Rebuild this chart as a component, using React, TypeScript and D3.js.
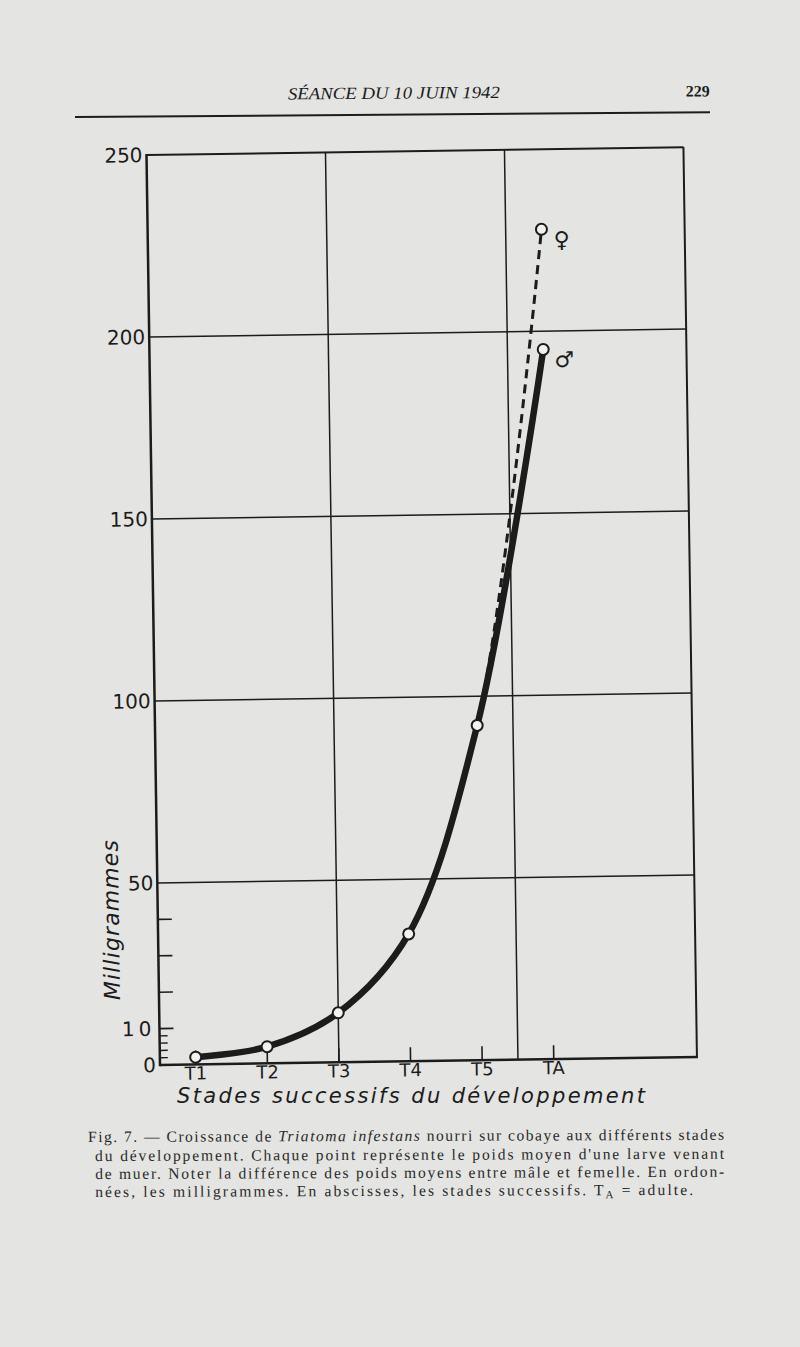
import React from "react";
import * as d3 from "d3";

// ---- data ----
const stages = ["T1", "T2", "T3", "T4", "T5", "TA"];
const maleMg = [2, 4.6, 13.6, 35, 92, 195];
const femaleStages = ["T4", "T5", "TA"];
const femaleMg = [35, 92, 228];
const yLabels = [0, 10, 50, 100, 150, 200, 250];
const gridValues = [50, 100, 150, 200];
const longMinorTicks = [10, 20, 30, 40];
const shortMinorTicks = [2, 4, 6, 8];
const verticalGridPositions = [3, 5.5]; // in stage units (T1 = 1)

const W = 800;
const H = 1347;
const INK = "#1c1c1c";
const PAPER = "#e4e4e2";

export default function App() {
  const left = 160;
  const right = 697;
  const bottom = 1065;
  const top = 155;

  const x = d3.scaleLinear().domain([0.5, 8]).range([left, right]);
  const y = d3.scaleLinear().domain([0, 250]).range([bottom, top]);
  const sx = (s: string) => x(stages.indexOf(s) + 1);

  const line = d3
    .line<[number, number]>()
    .x((d) => d[0])
    .y((d) => d[1])
    .curve(d3.curveCatmullRom.alpha(0.5));

  const malePts: [number, number][] = stages.map((s, i) => [sx(s), y(maleMg[i])]);
  const femalePts: [number, number][] = femaleStages.map((s, i) => [sx(s), y(femaleMg[i])]);
  const malePath = line(malePts) || "";
  const femalePath = line(femalePts) || "";
  const t5y = y(femaleMg[1]);
  const taX = sx("TA");

  const sans = "'DejaVu Sans', sans-serif";
  const serif = "'Liberation Serif', 'DejaVu Serif', serif";

  return (
    <svg
      width={W}
      height={H}
      viewBox={`0 0 ${W} ${H}`}
      style={{ position: "absolute", left: 0, top: 0, display: "block" }}
    >
      <rect x={0} y={0} width={W} height={H} fill={PAPER} />

      {/* page header */}
      <g transform="rotate(-0.42, 75, 117)">
        <text
          x={288}
          y={101}
          fontFamily={serif}
          fontStyle="italic"
          fontSize={17}
          fill={INK}
          textLength={212}
          lengthAdjust="spacingAndGlyphs"
        >
          SÉANCE DU 10 JUIN 1942
        </text>
        <text x={710} y={101} fontFamily={serif} fontWeight="bold" fontSize={16} fill={INK} textAnchor="end">
          229
        </text>
        <line x1={75} x2={710} y1={117} y2={117} stroke={INK} strokeWidth={2} />
      </g>

      {/* chart */}
      <g transform={`rotate(-0.85, ${left}, ${bottom})`}>
        <defs>
          <clipPath id="aboveT5">
            <rect x={left} y={top} width={right - left} height={t5y - 6 - top} />
          </clipPath>
        </defs>

        {/* horizontal grid */}
        {gridValues.map((v) => (
          <line key={"h" + v} x1={left} x2={right} y1={y(v)} y2={y(v)} stroke={INK} strokeWidth={1.5} />
        ))}
        {/* vertical grid */}
        {verticalGridPositions.map((p) => (
          <line key={"v" + p} x1={x(p)} x2={x(p)} y1={top} y2={bottom} stroke={INK} strokeWidth={1.5} />
        ))}
        {/* frame */}
        <line x1={left} x2={right} y1={top} y2={top} stroke={INK} strokeWidth={2} />
        <line x1={right} x2={right} y1={top} y2={bottom} stroke={INK} strokeWidth={2} />
        <line x1={left} x2={left} y1={top - 1} y2={bottom + 1.25} stroke={INK} strokeWidth={2.5} />
        <line x1={left} x2={right + 1} y1={bottom} y2={bottom} stroke={INK} strokeWidth={2.5} />

        {/* y minor ticks */}
        {longMinorTicks.map((v) => (
          <line key={"lt" + v} x1={left} x2={left + 14} y1={y(v)} y2={y(v)} stroke={INK} strokeWidth={1.6} />
        ))}
        {shortMinorTicks.map((v) => (
          <line key={"st" + v} x1={left} x2={left + 8} y1={y(v)} y2={y(v)} stroke={INK} strokeWidth={1.4} />
        ))}

        {/* y labels */}
        {yLabels.map((v) => (
          <text
            key={"yl" + v}
            x={left - 4}
            y={y(v) + 7}
            textAnchor="end"
            fontFamily={sans}
            fontSize={20}
            letterSpacing={v === 10 ? 4 : 0}
            fill={INK}
          >
            {v}
          </text>
        ))}

        {/* x ticks & labels */}
        {stages.map((s) => (
          <g key={"x" + s}>
            <line x1={sx(s)} x2={sx(s)} y1={bottom} y2={bottom - 14} stroke={INK} strokeWidth={1.6} />
            <text x={sx(s)} y={bottom + 15} textAnchor="middle" fontFamily={sans} fontSize={18} fill={INK}>
              {s}
            </text>
          </g>
        ))}

        {/* y axis title */}
        <text
          transform={`translate(${left - 39}, ${y(40)}) rotate(-90)`}
          textAnchor="middle"
          fontFamily={sans}
          fontStyle="italic"
          fontSize={22}
          fill={INK}
          textLength={160}
          lengthAdjust="spacing"
        >
          Milligrammes
        </text>

        {/* female (dashed) */}
        <path
          d={femalePath}
          fill="none"
          stroke={INK}
          strokeWidth={3}
          strokeDasharray="9,6"
          clipPath="url(#aboveT5)"
        />
        {/* male (solid thick) */}
        <path d={malePath} fill="none" stroke={INK} strokeWidth={6.5} strokeLinecap="butt" />

        {/* points */}
        {malePts.map((p, i) => (
          <circle key={"m" + i} cx={p[0]} cy={p[1]} r={5.5} fill="#f2f2f0" stroke={INK} strokeWidth={2} />
        ))}
        <circle
          cx={femalePts[2][0]}
          cy={femalePts[2][1]}
          r={5.5}
          fill="#f2f2f0"
          stroke={INK}
          strokeWidth={2}
        />

        {/* sex symbols */}
        <text x={taX + 20} y={y(femaleMg[2]) + 18} textAnchor="middle" fontFamily={sans} fontSize={22} fill={INK}>
          ♀
        </text>
        <text x={taX + 21} y={y(maleMg[5]) + 18} textAnchor="middle" fontFamily={sans} fontSize={22} fill={INK}>
          ♂
        </text>
      </g>

      {/* x axis title (kept level so its box stays clear of the stage labels) */}
      <text
        x={411}
        y={1103}
        textAnchor="middle"
        fontFamily={sans}
        fontStyle="italic"
        fontSize={21}
        fill={INK}
        textLength={468}
        lengthAdjust="spacing"
      >
        Stades successifs du développement
      </text>

      {/* caption */}
      <g transform="rotate(-0.2, 88, 1141)" fontFamily={serif} fontSize={15.6} fill="#2a2a2a">
        <text x={88} y={1142} textLength={636} lengthAdjust="spacing">
          Fig. 7. — Croissance de <tspan fontStyle="italic">Triatoma infestans</tspan> nourri sur cobaye aux
          différents stades
        </text>
        <text x={95} y={1161} textLength={629} lengthAdjust="spacing">
          du développement. Chaque point représente le poids moyen d'une larve venant
        </text>
        <text x={95} y={1179} textLength={629} lengthAdjust="spacing">
          de muer. Noter la différence des poids moyens entre mâle et femelle. En ordon-
        </text>
        <text x={95} y={1197} textLength={598} lengthAdjust="spacing">
          nées, les milligrammes. En abscisses, les stades successifs. T
          <tspan fontSize={11} dy={3}>
            A
          </tspan>
          <tspan dy={-3}> = adulte.</tspan>
        </text>
      </g>
    </svg>
  );
}
